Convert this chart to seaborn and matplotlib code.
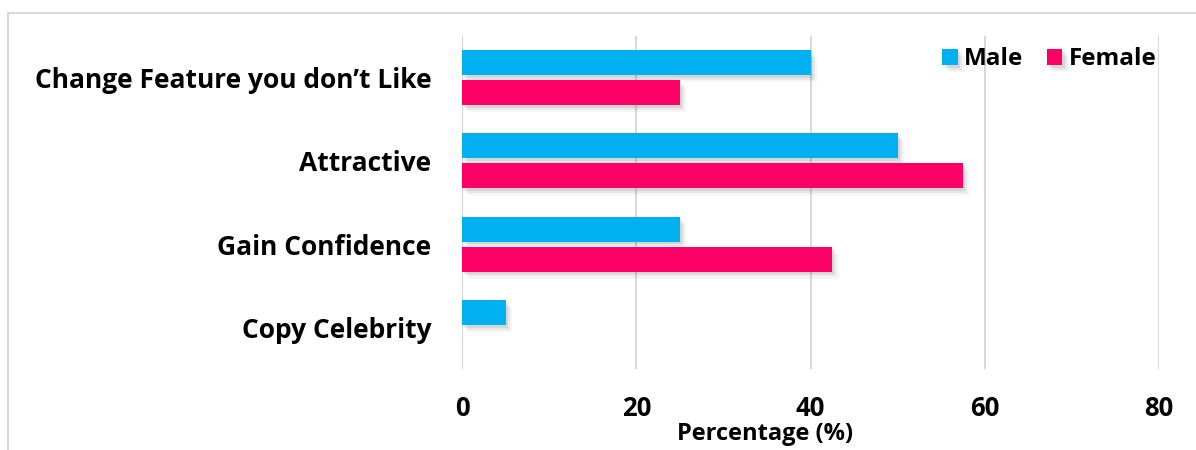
import matplotlib
matplotlib.use("Agg")
import matplotlib.pyplot as plt
import matplotlib.patheffects as pe
from matplotlib.patches import Rectangle
import pandas as pd
import seaborn as sns

# Reasons for cosmetic procedures, split by gender
reasons = ["Change Feature you don\u2019t Like", "Attractive", "Gain Confidence", "Copy Celebrity"]
male = [40, 50, 25, 5]
female = [25, 57.5, 42.5, 0]
genders = ["Male", "Female"]
colors = {"Male": "#00B0F0", "Female": "#FF0066"}
x_ticks = [0, 20, 40, 60, 80]

df = pd.DataFrame({
    "Reason": reasons * 2,
    "Gender": ["Male"] * len(reasons) + ["Female"] * len(reasons),
    "Percentage": male + female,
})

sns.set_theme(style="white")
plt.rcParams["font.family"] = ["Open Sans", "DejaVu Sans"]
plt.rcParams["font.weight"] = "bold"

fig = plt.figure(figsize=(11.96, 4.5), dpi=100)
ax = fig.add_axes([0.3863, 0.18, 0.5828, 0.74])

sns.barplot(
    data=df, y="Reason", x="Percentage", hue="Gender",
    order=reasons, hue_order=genders, palette=colors, saturation=1,
    width=0.72, gap=0.1667, orient="h", ax=ax, legend=True,
    edgecolor="none", linewidth=0,
)

# soft drop shadow built from a few faint offset layers
shadow = [
    pe.SimplePatchShadow(offset=(1.5, -2), alpha=0.10, shadow_rgbFace="#444444"),
    pe.SimplePatchShadow(offset=(3, -3.5), alpha=0.08, shadow_rgbFace="#444444"),
    pe.SimplePatchShadow(offset=(4.5, -5), alpha=0.05, shadow_rgbFace="#444444"),
    pe.Normal(),
]
for p in ax.patches:
    p.set_path_effects(shadow)

ax.set_xlim(0, 80)
ax.set_xticks(x_ticks)
ax.grid(axis="x", color="#D9D9D9", linewidth=1.5)
ax.grid(axis="y", visible=False)
ax.set_axisbelow(True)
for s in ax.spines.values():
    s.set_visible(False)

ax.tick_params(axis="y", length=0, labelsize=19, pad=22)
ax.tick_params(axis="x", length=0, labelsize=18.5, pad=19)
for lbl in ax.get_xticklabels() + ax.get_yticklabels():
    lbl.set_fontweight("bold")
    lbl.set_color("black")

ax.set_ylabel("")
ax.set_xlabel("Percentage (%)", fontsize=17, fontweight="bold", color="black")
ax.xaxis.set_label_coords(0.435, -0.16)

leg = ax.legend(
    loc="upper right", bbox_to_anchor=(1.017, 1.01), ncol=2, frameon=False,
    prop={"size": 17.5, "weight": "bold"}, handlelength=0.65, handleheight=0.65,
    handletextpad=0.25, columnspacing=0.95, borderaxespad=0.2,
)
for t in leg.get_texts():
    t.set_color("black")

# light outer chart border along the top and left
fig.add_artist(Rectangle((8 / 1196, -0.2), 1.2, 1.2 - 13 / 450,
                         transform=fig.transFigure, fill=False,
                         edgecolor="#D9D9D9", linewidth=1.5, clip_on=False))

fig.savefig("out.png", dpi=100, facecolor="white")
